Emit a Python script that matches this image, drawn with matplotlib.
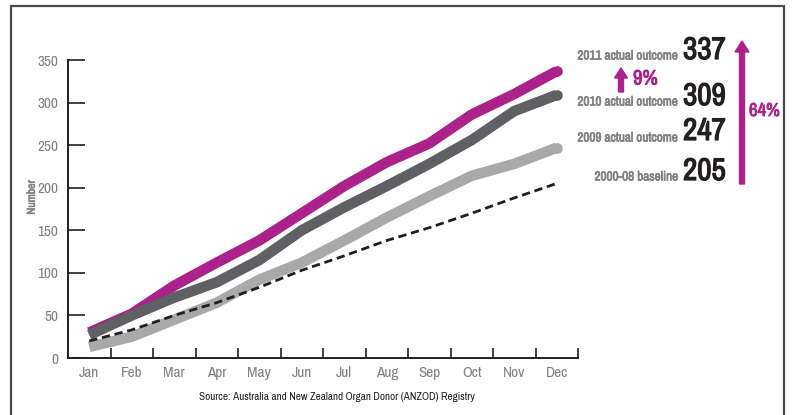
import matplotlib.pyplot as plt
import matplotlib.patches as patches
import matplotlib.patheffects as pe

# month by month cumulative donors
months = ["Jan", "Feb", "Mar", "Apr", "May", "Jun",
          "Jul", "Aug", "Sep", "Oct", "Nov", "Dec"]
y2011 = [30, 52, 85, 112, 138, 170, 202, 230, 252, 286, 310, 337]
y2010 = [27, 50, 71, 89, 115, 150, 177, 202, 228, 256, 290, 309]
y2009 = [13, 25, 45, 65, 92, 112, 138, 165, 190, 214, 228, 247]
baseline = [20, 33, 50, 65, 83, 103, 120, 138, 153, 170, 188, 205]

outcome_labels = ["2011 actual outcome", "2010 actual outcome",
                  "2009 actual outcome", "2000-08 baseline"]
outcome_values = ["337", "309", "247", "205"]
yticks = [0, 50, 100, 150, 200, 250, 300, 350]

MAGENTA = "#ab228a"
DARK = "#5f6063"
LIGHT = "#a8a9ab"
TXT = "#7f8083"
INK = "#231f20"

plt.rcParams['font.family'] = ['Archivo Narrow', 'Liberation Sans', 'DejaVu Sans']


def bold(width, col):
    # the narrow face has no bold, so thicken it with a stroke
    return [pe.withStroke(linewidth=width, foreground=col)]


fig = plt.figure(figsize=(7.92, 4.15), dpi=100)
ax = fig.add_axes([68/792, 1 - 358/415, (578-68)/792, (358-60)/415])

x = list(range(len(months)))
lw = 7.6
series = [(y2011, MAGENTA), (y2010, DARK), (y2009, LIGHT)]
for z, (vals, col) in enumerate(series):
    ax.plot(x, vals, color=col, lw=lw, solid_capstyle='butt',
            solid_joinstyle='round', zorder=2 + z)
    ax.plot(x[-1], vals[-1], 'o', color=col, ms=lw, mec='none', zorder=2 + z)
ax.plot(x, baseline, color=INK, lw=2.0, ls=(0, (3.0, 1.7)), zorder=6)

ax.set_xlim(-0.5, 11.5)
ax.set_ylim(0, 350)
for s in ["top", "right"]:
    ax.spines[s].set_visible(False)
for s in ["left", "bottom"]:
    ax.spines[s].set_color(INK)
    ax.spines[s].set_linewidth(1.4)

ax.set_yticks(yticks)
ax.tick_params(axis='y', direction='in', length=12, width=1.2, color=INK,
               labelcolor=TXT, labelsize=11, pad=7)
ax.set_xticks([i + 0.5 for i in x])
ax.set_xticklabels([])
ax.tick_params(axis='x', direction='in', length=7, width=1.2, color=INK)
for i, m in enumerate(months):
    ax.text(i, -9, m, ha='center', va='top', color=TXT, fontsize=11)

ax.set_ylabel("Number", color=TXT, fontsize=8.5,
              path_effects=bold(0.4, TXT))
ax.yaxis.set_label_coords(-0.061, 0.54)

fig.text(337/792, 1 - 397/415,
         "Source: Australia and New Zealand Organ Donor (ANZOD) Registry",
         ha='center', va='center', fontsize=8, color=INK)

# right hand annotations
label_y = [56, 102, 138, 177]
value_y = [50, 96, 131, 171]
for lab, val, ly, vy in zip(outcome_labels, outcome_values, label_y, value_y):
    fig.text(678/792, 1 - ly/415, lab, ha='right', va='center',
             fontsize=9.5, color=TXT, path_effects=bold(0.45, TXT))
    fig.text(683/792, 1 - vy/415, val, ha='left', va='center',
             fontsize=22.5, color=INK, path_effects=bold(0.9, INK))

fig.patches.append(patches.FancyArrow(621/792, 1 - 92/415, 0, 24/415,
                                      width=5/792, head_width=13/792,
                                      head_length=10/415, color=MAGENTA,
                                      transform=fig.transFigure,
                                      length_includes_head=True))
fig.text(633/792, 1 - 79/415, "9%", ha='left', va='center',
         fontsize=15, color=MAGENTA, path_effects=bold(0.7, MAGENTA))

fig.patches.append(patches.FancyArrow(742/792, 1 - 184/415, 0, 143/415,
                                      width=5/792, head_width=14/792,
                                      head_length=11/415, color=MAGENTA,
                                      transform=fig.transFigure,
                                      length_includes_head=True))
fig.text(749/792, 1 - 111/415, "64%", ha='left', va='center',
         fontsize=13.5, color=MAGENTA, path_effects=bold(0.6, MAGENTA))

# outer frame
fig.patches.append(patches.Rectangle((11/792, -0.1), (784-11)/792, 1.1 - 6/415,
                                     fill=False, ec="#4a4a4c", lw=1.6,
                                     transform=fig.transFigure))

fig.savefig("out.png", dpi=100)
